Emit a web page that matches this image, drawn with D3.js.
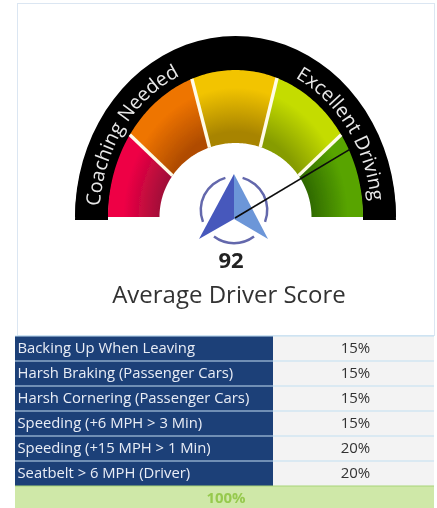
<!DOCTYPE html>
<html>
<head>
<meta charset="utf-8">
<script src="https://cdn.jsdelivr.net/npm/d3@7"></script>
<style>
  html, body { margin: 0; padding: 0; background: #fff; }
  svg { display: block; }
  text { font-family: "Open Sans", sans-serif; }
</style>
</head>
<body>
<div id="chart"></div>
<script>
const score = 92
const title = 'Average Driver Score'
const gaugeBreaks = [0, 60, 70, 80, 90, 100]
const zoneOuter = ['#ee0045', '#ee7400', '#f2c400', '#c4dc00', '#58a400']
const zoneInner = ['#a01038', '#b04c00', '#a88400', '#869c00', '#2e6800']
const gaugeLabels = ['Coaching Needed', 'Excellent Driving']
const categories = [
    'Backing Up When Leaving',
    'Harsh Braking (Passenger Cars)',
    'Harsh Cornering (Passenger Cars)',
    'Speeding (+6 MPH > 3 Min)',
    'Speeding (+15 MPH > 1 Min)',
    'Seatbelt > 6 MPH (Driver)'
]
const weights = [15, 15, 15, 15, 20, 20]

const width = 437
const height = 508
const cx = 235.5
const cy = 217

const svg = d3.select('#chart').append('svg')
    .attr('width', width)
    .attr('height', height)
const defs = svg.append('defs')

defs.append('filter').attr('id', 'soft')
    .append('feGaussianBlur').attr('stdDeviation', 0.5)

// value -> angle in degrees, left end of the gauge is 180
const angle = d3.scaleLinear().domain(gaugeBreaks).range([180, 146, 110, 71, 34, 0])

const rim = { rx: 160.5, ry: 181 }
const outer = { rx: 127.5, ry: 147 }
const inner = { rx: 76, ry: 74 }
const labelPath = { rx: 136, ry: 155 }

function pt(deg, r) {
    let t = deg * Math.PI / 180
    return [cx + r.rx * Math.cos(t), cy - r.ry * Math.sin(t)]
}

function arcPoints(a0, a1, r) {
    return d3.range(0, 41).map(function (i) {
        return pt(a0 + (a1 - a0) * i / 40, r)
    })
}

const line = d3.line()

function band(a0, a1, r0, r1) {
    return line(arcPoints(a0, a1, r1).concat(arcPoints(a1, a0, r0))) + 'Z'
}

const panel = svg.append('g')
panel.append('rect')
    .attr('x', 17.5).attr('y', 3.5)
    .attr('width', 417).attr('height', 332)
    .attr('fill', '#fff')
    .attr('stroke', '#dbe6f2')

const gauge = svg.append('g').attr('filter', 'url(#soft)')

// black rim
gauge.append('path')
    .attr('d', band(180, 0, outer, rim))
    .attr('transform', 'translate(0,3)')
    .attr('fill', '#000')
gauge.append('path')
    .attr('d', band(180, 0, outer, rim))
    .attr('fill', '#000')
gauge.append('rect')
    .attr('x', cx - outer.rx).attr('y', cy - 2)
    .attr('width', outer.rx * 2).attr('height', 8)
    .attr('fill', '#fff')

// colour zones
zoneOuter.forEach(function (c, i) {
    let grad = defs.append('radialGradient')
        .attr('id', 'zone' + i)
        .attr('gradientUnits', 'userSpaceOnUse')
        .attr('cx', 0).attr('cy', 0).attr('r', 1)
        .attr('gradientTransform', 'translate(' + cx + ',' + cy + ') scale(' + outer.rx + ',' + outer.ry + ')')
    grad.append('stop').attr('offset', 0.58).attr('stop-color', zoneInner[i])
    grad.append('stop').attr('offset', 0.88).attr('stop-color', c)
    grad.append('stop').attr('offset', 1).attr('stop-color', c)
})

gauge.selectAll('path.zone')
    .data(zoneOuter)
    .join('path')
    .attr('class', 'zone')
    .attr('d', function (d, i) {
        return band(angle(gaugeBreaks[i]), angle(gaugeBreaks[i + 1]), inner, outer)
    })
    .attr('fill', function (d, i) { return 'url(#zone' + i + ')' })

// white separators
gauge.selectAll('line.sep')
    .data(gaugeBreaks.slice(1, -1))
    .join('line')
    .attr('class', 'sep')
    .attr('x1', function (d) { return pt(angle(d), inner)[0] })
    .attr('y1', function (d) { return pt(angle(d), inner)[1] })
    .attr('x2', function (d) { return pt(angle(d), outer)[0] })
    .attr('y2', function (d) { return pt(angle(d), outer)[1] })
    .attr('stroke', '#fffbe8')
    .attr('stroke-width', 3.4)

// curved labels
defs.append('path').attr('id', 'labelLeft').attr('d', line(arcPoints(176, 60, labelPath)))
defs.append('path').attr('id', 'labelRight').attr('d', line(arcPoints(64, -10, labelPath)))

gauge.selectAll('text.curve')
    .data(gaugeLabels)
    .join('text')
    .attr('class', 'curve')
    .attr('fill', '#e8e8e8')
    .attr('font-size', 19.5)
    .append('textPath')
    .attr('href', function (d, i) { return i === 0 ? '#labelLeft' : '#labelRight' })
    .text(function (d) { return d })

// arrow logo
const logo = gauge.append('g').attr('transform', 'translate(234,210)')
const ring = d3.arc().innerRadius(32).outerRadius(34.5)
const ringParts = [[-111, -15], [15, 111], [143, 217]]
logo.selectAll('path.ring')
    .data(ringParts)
    .join('path')
    .attr('class', 'ring')
    .attr('d', function (d) {
        return ring({ startAngle: d[0] * Math.PI / 180, endAngle: d[1] * Math.PI / 180 })
    })
    .attr('fill', '#6468ac')
logo.append('path').attr('d', 'M0,-36L-35,29L0,9Z').attr('fill', '#4658bc')
logo.append('path').attr('d', 'M0,-36L34,29L0,9Z').attr('fill', '#6c96d8')

// needle
const tip = pt(angle(score), { rx: outer.rx + 1, ry: outer.ry + 1 })
gauge.append('line')
    .attr('x1', 235).attr('y1', 218)
    .attr('x2', tip[0]).attr('y2', tip[1])
    .attr('stroke', '#0a0a0a')
    .attr('stroke-width', 1.6)

gauge.append('text')
    .attr('x', 231).attr('y', 268)
    .attr('text-anchor', 'middle')
    .attr('font-size', 22)
    .attr('font-weight', 700)
    .attr('fill', '#222')
    .text(score)

gauge.append('text')
    .attr('x', 229).attr('y', 303)
    .attr('text-anchor', 'middle')
    .attr('font-size', 24)
    .attr('fill', '#333')
    .text(title)

// table
const y = d3.scaleBand().domain(categories).range([336, 486])
const colLeft = 15
const colSplit = 273
const colRight = 434

const table = svg.append('g').attr('filter', 'url(#soft)')
const rows = table.selectAll('g.row')
    .data(categories)
    .join('g')
    .attr('class', 'row')
    .attr('transform', function (d) { return 'translate(0,' + y(d) + ')' })

rows.append('rect')
    .attr('x', colLeft).attr('width', colSplit - colLeft)
    .attr('height', y.bandwidth())
    .attr('fill', '#1f3f78')
rows.append('rect')
    .attr('x', colSplit).attr('width', colRight - colSplit)
    .attr('height', y.bandwidth())
    .attr('fill', '#f3f3f3')
rows.append('line')
    .attr('x1', colLeft).attr('x2', colRight)
    .attr('y1', 0).attr('y2', 0)
    .attr('stroke', '#c2dff2')
    .attr('stroke-width', 1.2)
rows.append('text')
    .attr('x', 17.5)
    .attr('y', y.bandwidth() / 2 + 4.5)
    .attr('font-size', 14.8)
    .attr('fill', '#e8eef6')
    .text(function (d) { return d })
rows.append('text')
    .attr('x', 355.5)
    .attr('y', y.bandwidth() / 2 + 4.5)
    .attr('text-anchor', 'middle')
    .attr('font-size', 15)
    .attr('fill', '#333')
    .text(function (d, i) { return weights[i] + '%' })

table.append('rect')
    .attr('x', colLeft).attr('y', 486)
    .attr('width', colRight - colLeft).attr('height', 22)
    .attr('fill', '#cfe8a8')
table.append('line')
    .attr('x1', colLeft).attr('x2', colRight)
    .attr('y1', 486).attr('y2', 486)
    .attr('stroke', '#a8d478')
table.append('text')
    .attr('x', 226).attr('y', 503)
    .attr('text-anchor', 'middle')
    .attr('font-size', 15)
    .attr('font-weight', 700)
    .attr('fill', '#96c94e')
    .text(d3.sum(weights) + '%')
</script>
</body>
</html>
